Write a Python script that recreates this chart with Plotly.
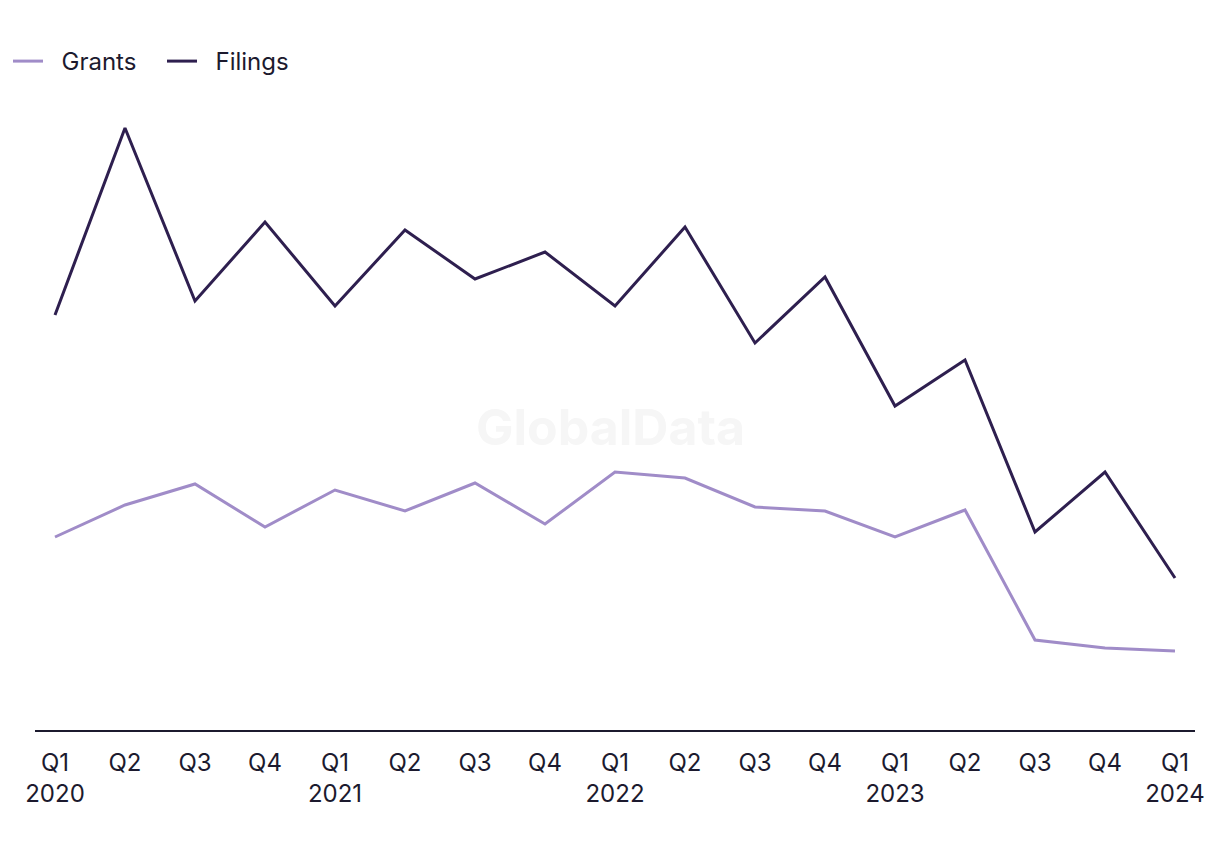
import plotly.graph_objects as go

quarters = ["Q1<br>2020", "Q2", "Q3", "Q4", "Q1<br>2021", "Q2", "Q3", "Q4",
            "Q1<br>2022", "Q2", "Q3", "Q4", "Q1<br>2023", "Q2", "Q3", "Q4", "Q1<br>2024"]
periods = ["2020Q1", "2020Q2", "2020Q3", "2020Q4", "2021Q1", "2021Q2", "2021Q3", "2021Q4",
           "2022Q1", "2022Q2", "2022Q3", "2022Q4", "2023Q1", "2023Q2", "2023Q3", "2023Q4", "2024Q1"]
grants = [193, 225, 246, 203, 240, 219, 247, 206, 258, 252, 223, 219, 193, 220, 90, 82, 79]
filings = [415, 602, 429, 508, 424, 500, 451, 478, 424, 503, 387, 453, 324, 370, 198, 258, 152]

FONT = "Inter, Liberation Sans, sans-serif"
TEXT = "#1c1a2e"

fig = go.Figure()
fig.add_trace(go.Scatter(x=periods, y=grants, name="\u00a0\u00a0Grants", mode="lines",
                         line=dict(color="#a08cc8", width=3)))
fig.add_trace(go.Scatter(x=periods, y=filings, name="\u00a0\u00a0Filings", mode="lines",
                         line=dict(color="#2e1f4f", width=3)))

fig.add_annotation(text="GlobalData", x=0.4957, y=0.481, xref="paper", yref="paper",
                   yanchor="middle", xanchor="center", showarrow=False,
                   font=dict(family=FONT, size=50, color="#f6f6f6", weight="bold"))

fig.update_layout(
    width=1212, height=842,
    margin=dict(l=27, r=25, t=92, b=120),
    paper_bgcolor="white", plot_bgcolor="white",
    font=dict(family=FONT, size=24, color=TEXT),
    showlegend=True,
    legend=dict(orientation="h", xref="container", yref="container",
                x=-0.002, y=1 - 31 / 842, xanchor="left", yanchor="top",
                font=dict(size=24, color=TEXT), itemwidth=30,
                entrywidth=109, entrywidthmode="pixels",
                bgcolor="rgba(0,0,0,0)"),
    xaxis=dict(type="category", tickmode="array", tickvals=periods, ticktext=quarters,
               range=[-0.2857, 16.2857], showgrid=False, zeroline=False,
               showline=True, linecolor="#1c1a2e", linewidth=2, ticks="",
               ticklabelstandoff=10,
               tickfont=dict(size=24, color=TEXT), fixedrange=True),
    yaxis=dict(range=[0, 630], showgrid=False, zeroline=False, showline=False,
               showticklabels=False, ticks="", fixedrange=True),
)

fig.write_html("out.html")
